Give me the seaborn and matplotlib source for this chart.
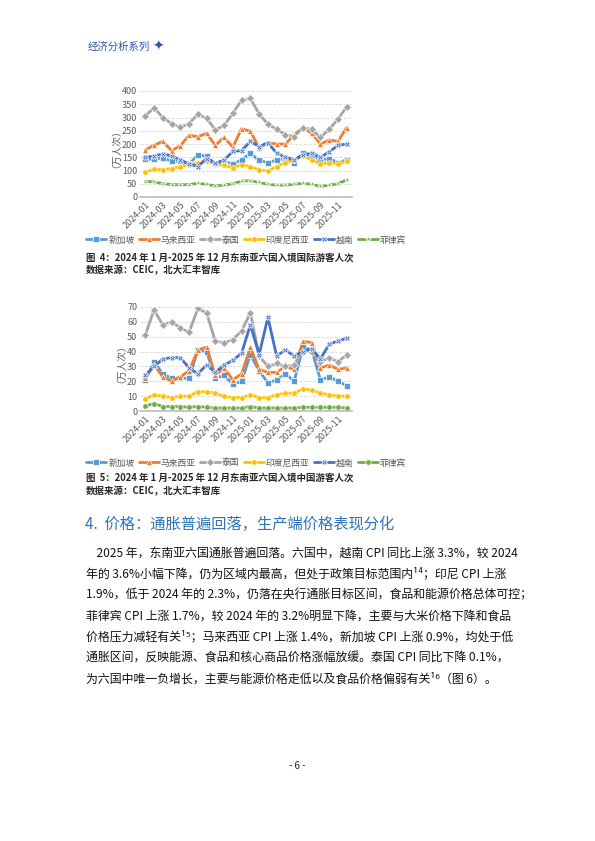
import numpy as np
import pandas as pd
import seaborn as sns
import matplotlib.pyplot as plt

# ---------------------------------------------------------------------
# Data
# ---------------------------------------------------------------------
months = pd.date_range("2024-01-01", periods=24, freq="MS").strftime("%Y-%m").tolist()
countries = ["新加坡", "马来西亚", "泰国", "印度尼西亚", "越南", "菲律宾"]

intl_sg = [142, 143, 148, 135, 135, 123, 160, 153, 125, 135, 125, 140, 165, 138, 130, 140, 145, 130, 165, 155, 140, 145, 130, 140]
intl_my = [178, 195, 210, 175, 193, 233, 228, 240, 195, 225, 188, 258, 248, 185, 205, 200, 200, 235, 262, 240, 200, 215, 210, 262]
intl_th = [305, 337, 300, 277, 263, 277, 312, 297, 253, 270, 316, 365, 372, 313, 275, 255, 235, 228, 262, 255, 225, 255, 295, 340]
intl_id = [93, 105, 103, 107, 115, 120, 130, 135, 125, 120, 110, 122, 115, 102, 98, 115, 130, 140, 155, 140, 125, 130, 125, 135]
intl_vn = [150, 155, 162, 155, 140, 125, 115, 145, 127, 140, 172, 175, 210, 190, 205, 165, 150, 140, 160, 165, 150, 170, 195, 200]
intl_ph = [58, 58, 50, 47, 46, 47, 52, 48, 42, 45, 50, 60, 62, 55, 48, 45, 45, 48, 52, 48, 40, 45, 50, 65]

cn_sg = [21, 33, 25, 22, 22, 22, 41, 40, 22, 24, 18, 20, 38, 27, 19, 21, 25, 20, 43, 41, 21, 23, 20, 17]
cn_my = [22, 31, 23, 20, 23, 27, 41, 43, 24, 29, 21, 25, 43, 28, 26, 26, 30, 28, 47, 46, 29, 31, 28, 29]
cn_th = [51, 68, 58, 60, 56, 53, 69, 66, 47, 46, 48, 54, 66, 37, 30, 32, 30, 31, 40, 40, 33, 36, 33, 38]
cn_id = [8, 11, 10, 9, 10, 10, 13, 13, 12, 10, 9, 9, 11, 9, 9, 11, 12, 12, 15, 14, 12, 11, 10, 10]
cn_vn = [24, 30, 35, 36, 36, 29, 25, 31, 26, 31, 34, 39, 58, 38, 63, 37, 41, 37, 40, 42, 35, 45, 47, 49]
cn_ph = [3.5, 5, 3, 3, 3, 2.5, 3, 2.5, 2, 2, 2, 2, 3, 2, 2, 2, 2, 2, 2.5, 2.5, 2.5, 2.5, 2.5, 2]

colors = ["#5B9BD5", "#ED7D31", "#A5A5A5", "#FFC000", "#4472C4", "#70AD47"]

sns.set_theme(style="white")
plt.rcParams["font.family"] = ["Noto Sans CJK SC", "DejaVu Sans"]
plt.rcParams["axes.unicode_minus"] = False

fig = plt.figure(figsize=(5.95, 8.41), dpi=100)


def px(x, y):
    return x / 595, 1 - y / 841


def draw_chart(top, bottom, series, markers, ymax, step, legend_y):
    ax = fig.add_axes([140 / 595, 1 - bottom / 841, 212 / 595, (bottom - top) / 841])
    df = pd.DataFrame({c: s for c, s in zip(countries, series)})
    df["month"] = months
    long = df.melt(id_vars="month", var_name="country", value_name="v")
    sns.lineplot(data=long, x="month", y="v", hue="country", style="country",
                 palette=colors, markers=markers, dashes=False, linewidth=2,
                 markersize=4, markeredgewidth=0.5, sort=False, ax=ax)
    ax.set_ylim(0, ymax)
    ax.set_yticks(np.arange(0, ymax + 1, step))
    ax.set_xlim(-0.6, 23.6)
    ax.set_xticks(range(0, 24, 2))
    ax.set_xticklabels(months[::2], rotation=45, ha="right", rotation_mode="anchor")
    ax.tick_params(labelsize=6.5, colors="#595959", length=0, pad=2)
    ax.grid(axis="y", color="#D9D9D9", linestyle="--", linewidth=0.6)
    for s in ["top", "right", "left"]:
        ax.spines[s].set_visible(False)
    ax.spines["bottom"].set_color("#BFBFBF")
    ax.set_xlabel("")
    ax.set_ylabel("（万人次）", fontsize=7, color="#595959", labelpad=4)
    h, l = ax.get_legend_handles_labels()
    ax.get_legend().remove()
    fig.legend(h, l, loc="center", bbox_to_anchor=px(246, legend_y), ncol=6, frameon=False,
               fontsize=6.3, handlelength=2.3, columnspacing=0.5, handletextpad=0.2,
               labelcolor="#595959")
    return ax


draw_chart(91, 197, [intl_sg, intl_my, intl_th, intl_id, intl_vn, intl_ph],
           ["s", "^", "D", "o", "X", "*"], 400, 50, 240)
draw_chart(307, 411, [cn_sg, cn_my, cn_th, cn_id, cn_vn, cn_ph],
           ["s", "^", "D", "o", "X", "o"], 70, 10, 463)

# ---------------------------------------------------------------------
# Page text
# ---------------------------------------------------------------------
fig.text(*px(88, 47), "经济分析系列", fontsize=7.5, color="#2E5AAC", style="italic", va="center")
fig.text(*px(152, 47), "✦", fontsize=10, color="#2E5AAC", va="center", family=["DejaVu Sans"])

fig.text(*px(86, 258), "图  4：2024 年 1 月-2025 年 12 月东南亚六国入境国际游客人次",
         fontsize=6.8, weight="bold", va="center")
fig.text(*px(86, 270), "数据来源：CEIC，北大汇丰智库", fontsize=6.8, weight="bold", va="center")
fig.text(*px(86, 478), "图  5：2024 年 1 月-2025 年 12 月东南亚六国入境中国游客人次",
         fontsize=6.8, weight="bold", va="center")
fig.text(*px(86, 491), "数据来源：CEIC，北大汇丰智库", fontsize=6.8, weight="bold", va="center")

fig.text(*px(85, 524), "4.  价格：通胀普遍回落，生产端价格表现分化", fontsize=11, color="#2E74B5", va="center")

lines = [
    "    2025 年，东南亚六国通胀普遍回落。六国中，越南 CPI 同比上涨 3.3%，较 2024",
    "年的 3.6%小幅下降，仍为区域内最高，但处于政策目标范围内¹⁴；印尼 CPI 上涨",
    "1.9%，低于 2024 年的 2.3%，仍落在央行通胀目标区间，食品和能源价格总体可控；",
    "菲律宾 CPI 上涨 1.7%，较 2024 年的 3.2%明显下降，主要与大米价格下降和食品",
    "价格压力减轻有关¹⁵；马来西亚 CPI 上涨 1.4%，新加坡 CPI 上涨 0.9%，均处于低",
    "通胀区间，反映能源、食品和核心商品价格涨幅放缓。泰国 CPI 同比下降 0.1%，",
    "为六国中唯一负增长，主要与能源价格走低以及食品价格偏弱有关¹⁶（图 6）。",
]
for i, t in enumerate(lines):
    fig.text(*px(86, 553 + i * 21), t, fontsize=8.6, va="center", color="#111111")

fig.text(*px(297, 766), "- 6 -", fontsize=7, ha="center", va="center")

fig.savefig("out.png", dpi=100)
